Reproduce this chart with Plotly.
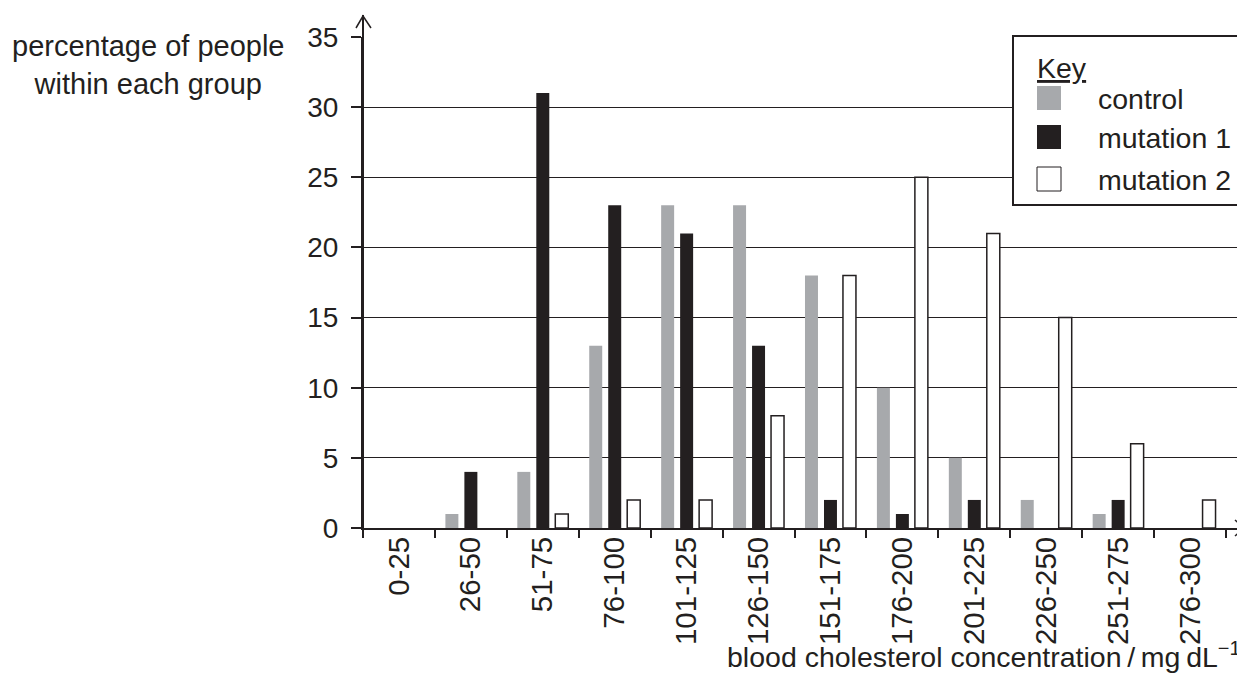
import plotly.graph_objects as go

# categories (blood cholesterol, mg/dL)
categories = ["0-25", "26-50", "51-75", "76-100", "101-125", "126-150",
              "151-175", "176-200", "201-225", "226-250", "251-275", "276-300"]

# percentage of people within each group
control = [0, 1, 4, 13, 23, 23, 18, 10, 5, 2, 1, 0]
mutation_1 = [0, 4, 31, 23, 21, 13, 2, 1, 2, 0, 2, 0]
mutation_2 = [0, 0, 1, 2, 2, 8, 18, 25, 21, 15, 6, 2]

y_ticks = [0, 5, 10, 15, 20, 25, 30, 35]

INK = "#231f20"
GREY = "#a7a9ac"
FONT = "Liberation Sans, Arial, sans-serif"

# the page body has an 8px margin, so the figure is drawn 8px in and down
OFF = 8
W, H = 1245 - OFF, 679 - OFF
L, R, T, B = 363 - OFF, 0, 37 - OFF, 679 - 528
PW, PH = W - L - R, H - T - B


def paper(x, y):
    """screen pixel -> paper coordinates"""
    return (x - OFF - L) / PW, (H - B - (y - OFF)) / PH


fig = go.Figure()
fig.add_trace(go.Bar(name="control", x=categories, y=control,
                     marker=dict(color=GREY, line=dict(width=0))))
fig.add_trace(go.Bar(name="mutation 1", x=categories, y=mutation_1,
                     marker=dict(color=INK, line=dict(width=0))))
# no outline on empty bars, otherwise a stub shows on the axis
fig.add_trace(go.Bar(name="mutation 2", x=categories, y=mutation_2,
                     marker=dict(color="white",
                                 line=dict(color=INK, width=[1.5 if v else 0 for v in mutation_2]))))

shapes = []
annotations = []

# y axis extension + arrow head
x0, y0 = paper(363, 528)
x1, y1 = paper(363, 15)
shapes.append(dict(type="line", xref="paper", yref="paper", x0=x0, y0=y0, x1=x1, y1=y1,
                   line=dict(color=INK, width=2)))
a = paper(356, 28); b = paper(363, 16); c = paper(371, 28)
shapes.append(dict(type="path", xref="paper", yref="paper",
                   path=f"M{a[0]},{a[1]} L{b[0]},{b[1]} L{c[0]},{c[1]}",
                   line=dict(color=INK, width=1.5)))
# x axis arrow head
a = paper(1235, 520); b = paper(1244, 528); c = paper(1235, 536)
shapes.append(dict(type="path", xref="paper", yref="paper",
                   path=f"M{a[0]},{a[1]} L{b[0]},{b[1]} L{c[0]},{c[1]}",
                   line=dict(color=INK, width=1.5)))

# key box
a = paper(1013, 205); b = paper(1260, 36)
shapes.append(dict(type="rect", xref="paper", yref="paper", x0=a[0], y0=a[1], x1=b[0], y1=b[1],
                   fillcolor="white", line=dict(color=INK, width=2), layer="above"))
annotations.append(dict(xref="paper", yref="paper", x=paper(1035, 0)[0], y=paper(0, 68)[1],
                        text="<u>Key</u>", showarrow=False, xanchor="left", yanchor="middle",
                        font=dict(size=28.5, color=INK, family=FONT)))
key_items = [("control", GREY, 86), ("mutation 1", INK, 125), ("mutation 2", "white", 167)]
for label, col, top in key_items:
    a = paper(1037, top + 24); b = paper(1061, top)
    shapes.append(dict(type="rect", xref="paper", yref="paper", x0=a[0], y0=a[1], x1=b[0], y1=b[1],
                       fillcolor=col, line=dict(color=INK, width=1 if col == "white" else 0),
                       layer="above"))
    annotations.append(dict(xref="paper", yref="paper", x=paper(1096, 0)[0], y=paper(0, top + 13)[1],
                            text=label, showarrow=False, xanchor="left", yanchor="middle",
                            font=dict(size=28.5, color=INK, family=FONT)))

# axis titles
annotations.append(dict(xref="paper", yref="paper", x=paper(148, 0)[0], y=paper(0, 65)[1],
                        text="percentage of people<br>within each group", showarrow=False,
                        xanchor="center", yanchor="middle", align="center",
                        font=dict(size=29, color=INK, family=FONT)))
annotations.append(dict(xref="paper", yref="paper", x=paper(1243, 0)[0], y=paper(0, 655)[1],
                        text="blood cholesterol concentration\u2009/\u2009mg\u2009dL<sup>\u22121</sup>",
                        showarrow=False, xanchor="right", yanchor="middle",
                        font=dict(size=28.5, color=INK, family=FONT)))

fig.update_layout(
    width=W, height=H, autosize=False,
    margin=dict(l=L, r=R, t=T, b=B, pad=0),
    paper_bgcolor="white", plot_bgcolor="white",
    barmode="group", bargap=0.208, bargroupgap=0.316,
    showlegend=False,
    font=dict(family=FONT, size=28, color=INK),
    shapes=shapes, annotations=annotations,
)
fig.update_xaxes(
    type="category", range=[-0.5, 11.5 + 19 / 72],
    showline=True, linecolor=INK, linewidth=2,
    ticks="outside", tickson="boundaries", ticklen=8, tickwidth=2, tickcolor=INK,
    tickangle=-90, tickfont=dict(size=29.5, color=INK), ticklabelstandoff=-5,
    showgrid=False, zeroline=False,
)
fig.update_yaxes(
    range=[0, 35], tickvals=y_ticks,
    showline=True, linecolor=INK, linewidth=2,
    ticks="outside", ticklen=10, tickwidth=2, tickcolor=INK, ticklabelstandoff=7,
    tickfont=dict(size=28, color=INK),
    showgrid=True, gridcolor=INK, gridwidth=1, zeroline=False,
)

fig.write_html("out.html")
